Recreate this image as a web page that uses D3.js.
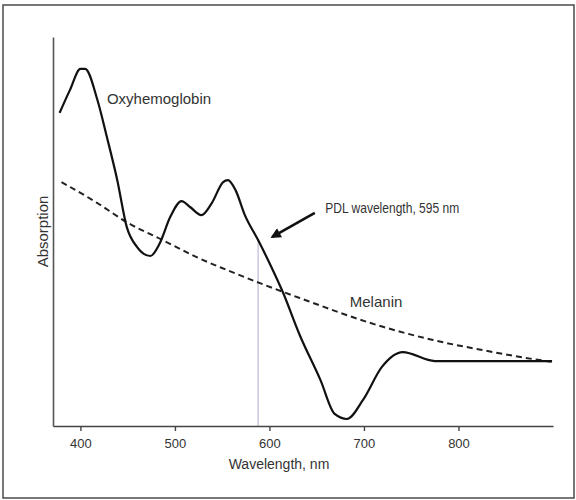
<!DOCTYPE html>
<html>
<head>
<meta charset="utf-8">
<script src="https://cdn.jsdelivr.net/npm/d3@7"></script>
<style>
  html, body { margin: 0; padding: 0; background: #fff; }
  svg text { font-family: "Liberation Sans", Arial, sans-serif; fill: #333; }
</style>
</head>
<body>
<div id="chart"></div>
<script>
// Absorption spectra (arbitrary units 0-100), wavelength in nm
const OXY_WAVELENGTH = [378, 389, 400, 405, 418, 428, 439, 449, 460, 474, 484, 495, 507, 516, 528, 539, 551, 556, 564, 574, 588, 601, 614, 632, 654, 669, 682, 699, 719, 741, 775, 899];
const OXY_ABSORPTION = [80.5, 86.4, 91.8, 91.8, 83.8, 74.3, 63.2, 51.2, 46.0, 43.7, 47.0, 53.7, 57.8, 56.3, 54.2, 57.3, 62.7, 63.2, 60.7, 54.2, 47.8, 41.4, 34.5, 23.4, 11.8, 3.1, 1.8, 6.7, 15.2, 19.0, 16.7, 16.7];

const MEL_WAVELENGTH = [380, 418, 449, 487, 523, 555, 632, 720, 773, 826, 879, 899];
const MEL_ABSORPTION = [62.7, 57.3, 52.4, 47.8, 43.4, 40.1, 32.9, 25.5, 22.1, 19.5, 17.2, 16.5];

const X_TICKS = [400, 500, 600, 700, 800];
const PDL_LINE = 588;

const width = 576, height = 500;
const margin = { top: 37, right: 23, bottom: 74, left: 53 };

const svg = d3.select('#chart').append('svg')
  .attr('width', width)
  .attr('height', height);

// outer frame
svg.append('rect')
  .attr('x', 3).attr('y', 5)
  .attr('width', 571).attr('height', 493)
  .attr('fill', 'none')
  .attr('stroke', '#555')
  .attr('stroke-width', 1.6);

const xScale = d3.scaleLinear()
  .domain([371, 900])
  .range([margin.left, width - margin.right]);

const yScale = d3.scaleLinear()
  .domain([0, 100])
  .range([height - margin.bottom, margin.top]);

// faint marker for the PDL wavelength
svg.append('line')
  .attr('x1', xScale(PDL_LINE)).attr('x2', xScale(PDL_LINE))
  .attr('y1', yScale(48)).attr('y2', yScale(0))
  .attr('stroke', '#c9c9de')
  .attr('stroke-width', 1.5);

// axes
const xAxis = d3.axisBottom(xScale)
  .tickValues(X_TICKS)
  .tickSize(5)
  .tickSizeOuter(0)
  .tickPadding(8);

const gx = svg.append('g')
  .attr('transform', `translate(0,${yScale(0)})`)
  .call(xAxis);
gx.select('.domain').attr('stroke', '#444').attr('stroke-width', 1.6);
gx.selectAll('.tick line').attr('stroke', '#444').attr('stroke-width', 1.4);
gx.selectAll('.tick text')
  .style('font-size', '13px')
  .style('font-family', '"Liberation Sans", Arial, sans-serif')
  .attr('fill', '#333');

const gy = svg.append('g')
  .attr('transform', `translate(${margin.left},0)`)
  .call(d3.axisLeft(yScale).ticks(0).tickSizeOuter(0));
gy.select('.domain').attr('stroke', '#555').attr('stroke-width', 1.6);

svg.append('text')
  .attr('x', 279)
  .attr('y', 469)
  .attr('text-anchor', 'middle')
  .attr('font-size', '14px')
  .text('Wavelength, nm');

svg.append('text')
  .attr('transform', `translate(48,${yScale(50)}) rotate(-90)`)
  .attr('text-anchor', 'middle')
  .attr('font-size', '15px')
  .text('Absorption');

// curves
const line = d3.line()
  .x(d => xScale(d[0]))
  .y(d => yScale(d[1]))
  .curve(d3.curveMonotoneX);

svg.append('path')
  .datum(d3.zip(MEL_WAVELENGTH, MEL_ABSORPTION))
  .attr('d', line)
  .attr('fill', 'none')
  .attr('stroke', '#222')
  .attr('stroke-width', 2)
  .attr('stroke-dasharray', '6,4');

svg.append('path')
  .datum(d3.zip(OXY_WAVELENGTH, OXY_ABSORPTION))
  .attr('d', line)
  .attr('fill', 'none')
  .attr('stroke', '#111')
  .attr('stroke-width', 2.2)
  .attr('stroke-linejoin', 'round');

// labels
svg.append('text')
  .attr('x', xScale(428))
  .attr('y', yScale(82.8))
  .attr('font-size', '15px')
  .text('Oxyhemoglobin');

svg.append('text')
  .attr('x', xScale(685))
  .attr('y', yScale(30.6))
  .attr('font-size', '15px')
  .text('Melanin');

// condensed look, as in the source figure
svg.append('text')
  .attr('transform', `translate(${xScale(659)},${yScale(54.8)}) scale(0.86,1)`)
  .attr('font-size', '14px')
  .text('PDL wavelength, 595 nm');

// arrow
svg.append('defs').append('marker')
  .attr('id', 'arrowhead')
  .attr('viewBox', '0 0 10 10')
  .attr('refX', 8).attr('refY', 5)
  .attr('markerWidth', 4.5).attr('markerHeight', 4)
  .attr('orient', 'auto')
  .append('path')
  .attr('d', 'M0,0 L10,5 L0,10 z')
  .attr('fill', '#111');

svg.append('line')
  .attr('x1', xScale(648)).attr('y1', yScale(54.8))
  .attr('x2', xScale(603)).attr('y2', yScale(48.6))
  .attr('stroke', '#111')
  .attr('stroke-width', 2.6)
  .attr('marker-end', 'url(#arrowhead)');
</script>
</body>
</html>
